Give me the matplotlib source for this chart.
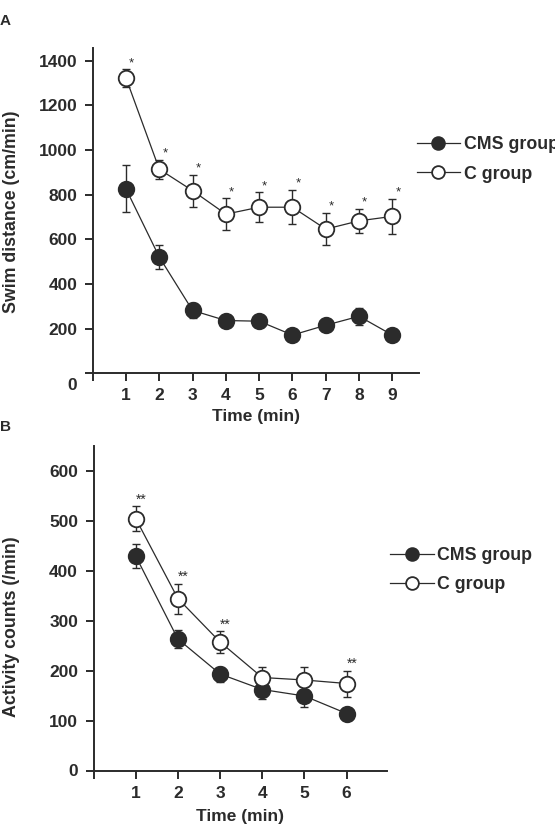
import matplotlib
matplotlib.use("Agg")
import matplotlib.pyplot as plt

plt.rcParams['font.family'] = ['Liberation Sans', 'DejaVu Sans']
plt.rcParams['font.weight'] = 'bold'

# ---- Data: Panel A (swim distance) ----
time_a = [1, 2, 3, 4, 5, 6, 7, 8, 9]
cms_a = [826, 521, 282, 237, 234, 172, 216, 256, 172]
cms_a_err = [105, 55, 34, 14, 12, 10, 14, 38, 10]
c_a = [1322, 914, 818, 713, 744, 744, 646, 683, 703]
c_a_err = [39, 42, 72, 70, 67, 77, 73, 54, 78]
stars_a_x = [1, 2, 3, 4, 5, 6, 7, 8, 9]
stars_a_txt = "*"
yticks_a = [0, 200, 400, 600, 800, 1000, 1200, 1400]

# ---- Data: Panel B (activity counts) ----
time_b = [1, 2, 3, 4, 5, 6]
cms_b = [430, 264, 194, 163, 150, 115]
cms_b_err = [24, 18, 15, 19, 22, 6]
c_b = [505, 345, 258, 187, 182, 175]
c_b_err = [24, 30, 22, 22, 27, 26]
stars_b_x = [1, 2, 3, 6]
stars_b_txt = "**"
yticks_b = [0, 100, 200, 300, 400, 500, 600]

labels = ["CMS group", "C group"]
INK = '#2b2b2b'
W, H = 555, 831

fig = plt.figure(figsize=(W / 100, H / 100), dpi=100)


def px_axes(left, right, top, bottom):
    return fig.add_axes([left / W, 1 - bottom / H, (right - left) / W, (bottom - top) / H])


def draw_panel(ax, t, cms, cms_err, c, c_err, xmax, ymax, yticks,
               stars_x, star_txt, star_off, star_size, zero_off):
    ax.errorbar(t, cms, yerr=cms_err, fmt='none', ecolor=INK, elinewidth=1.0,
                capsize=2.8, capthick=1.0, zorder=2, clip_on=False)
    ax.errorbar(t, c, yerr=c_err, fmt='none', ecolor=INK, elinewidth=1.0,
                capsize=2.8, capthick=1.0, zorder=2, clip_on=False)
    h1, = ax.plot(t, cms, '-', color=INK, lw=0.9, marker='o', ms=11.2,
                  mfc=INK, mec=INK, mew=1.3, zorder=3, clip_on=False)
    h2, = ax.plot(t, c, '-', color=INK, lw=0.9, marker='o', ms=11.2,
                  mfc='white', mec=INK, mew=1.3, zorder=3, clip_on=False)
    for x in stars_x:
        i = t.index(x)
        ax.annotate(star_txt, (x, c[i] + c_err[i]), xytext=star_off,
                    textcoords='offset points', ha='center', va='center',
                    fontsize=star_size, fontweight='normal', color=INK)
    ax.set_xlim(0, xmax)
    ax.set_ylim(0, ymax)
    ax.set_xticks([0] + list(t))
    ax.set_xticklabels([''] + [str(v) for v in t])
    ax.set_yticks(yticks)
    ax.set_yticklabels([''] + [str(v) for v in yticks[1:]])
    ax.annotate('0', (0, 0), xytext=zero_off, textcoords='offset points',
                xycoords='data', ha='right', va='center', fontsize=12.5,
                fontweight='bold', color=INK, annotation_clip=False)
    for s in ['top', 'right']:
        ax.spines[s].set_visible(False)
    for s in ['left', 'bottom']:
        ax.spines[s].set_linewidth(1.4)
        ax.spines[s].set_color(INK)
    ax.tick_params(axis='both', direction='out', length=5.8, width=1.4,
                   color=INK, labelsize=12.5, labelcolor=INK)
    ax.tick_params(axis='y', pad=5.3)
    ax.tick_params(axis='x', pad=5.0)
    ax.patch.set_visible(False)
    return h1, h2


# Panel A
axA = px_axes(92.7, 419, 48.3, 373.5)
hA = draw_panel(axA, time_a, cms_a, cms_a_err, c_a, c_a_err, 9.8, 1455, yticks_a,
                stars_a_x, stars_a_txt, (4.0, 4.5), 9.5, (-11.5, -9))
fig.text(256 / W, 1 - 416 / H, "Time (min)", ha='center', va='center',
         fontsize=12.5, fontweight='bold', color=INK)
fig.text(12 / W, 1 - 212 / H, "Swim distance (cm/min)", rotation=90,
         ha='center', va='center', fontsize=12.8, fontweight='bold', color=INK)
fig.text(0, 1 - 21 / H, "A", ha='left', va='center', fontsize=11,
         fontweight='bold', color=INK)
legA = axA.legend(hA, labels, loc='center left', frameon=False,
                  bbox_to_anchor=(416.7 / W, 1 - 159.5 / H),
                  bbox_transform=fig.transFigure, borderpad=0, borderaxespad=0,
                  handlelength=2.45, handletextpad=0.2, labelspacing=0.68,
                  markerscale=0.82, prop={'size': 12.8, 'weight': 'bold'})
for tx in legA.get_texts():
    tx.set_color(INK)

# Panel B
axB = px_axes(93.5, 386.7, 446, 771)
hB = draw_panel(axB, time_b, cms_b, cms_b_err, c_b, c_b_err, 6.95, 650, yticks_b,
                stars_b_x, stars_b_txt, (4.0, 4.5), 10, (-11.5, 0))
fig.text(240 / W, 1 - 816 / H, "Time (min)", ha='center', va='center',
         fontsize=12.5, fontweight='bold', color=INK)
fig.text(12 / W, 1 - 627 / H, "Activity counts (/min)", rotation=90,
         ha='center', va='center', fontsize=12.8, fontweight='bold', color=INK)
fig.text(0, 1 - 427 / H, "B", ha='left', va='center', fontsize=11,
         fontweight='bold', color=INK)
legB = axB.legend(hB, labels, loc='center left', frameon=False,
                  bbox_to_anchor=(390 / W, 1 - 570.3 / H),
                  bbox_transform=fig.transFigure, borderpad=0, borderaxespad=0,
                  handlelength=2.45, handletextpad=0.2, labelspacing=0.66,
                  markerscale=0.82, prop={'size': 12.8, 'weight': 'bold'})
for tx in legB.get_texts():
    tx.set_color(INK)

fig.savefig("out.png", dpi=100)
